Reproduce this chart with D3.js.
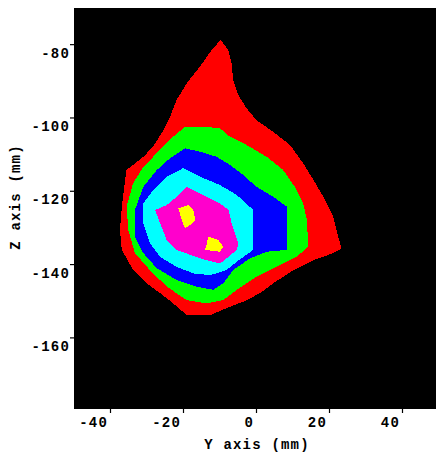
<!DOCTYPE html>
<html>
<head>
<meta charset="utf-8">
<script src="https://cdn.jsdelivr.net/npm/d3@7"></script>
<style>
  html, body { margin: 0; padding: 0; background: #ffffff; }
  svg { display: block; }
  text { font-family: "Liberation Mono", "DejaVu Sans Mono", monospace; font-weight: bold; fill: #000; }
</style>
</head>
<body>
<svg id="chart" width="436" height="456"></svg>
<script>
// ---- data (Y axis mm, Z axis mm) ----
const xTicks = [-40, -20, 0, 20, 40];
const yTicks = [-80, -100, -120, -140, -160];
const xTitle = "Y axis (mm)";
const yTitle = "Z axis (mm)";
const levelColors = ["#ff0000", "#00ff00", "#0000ff", "#00ffff", "#ff00cc", "#ffff00"];

const level1 = [[-9.8,-78.7],[-7.7,-81.5],[-6.8,-85.1],[-6.4,-89.6],[-5.0,-93.7],[-2.7,-97.4],[0.0,-100.6],[4.6,-103.8],[9.2,-107.4],[12.8,-112.4],[15.6,-116.9],[18.3,-121.5],[21.0,-126.9],[22.4,-132.4],[23.3,-135.6],[21.0,-136.9],[15.6,-138.8],[10.1,-141.5],[4.6,-145.1],[1.0,-147.8],[-3.6,-150.1],[-8.2,-151.9],[-12.7,-153.8],[-19.1,-153.8],[-22.8,-150.6],[-26.4,-147.8],[-30.1,-145.1],[-33.8,-141.5],[-36.9,-136.0],[-37.4,-130.6],[-36.9,-124.2],[-36.0,-116.9],[-35.6,-114.2],[-31.0,-110.6],[-28.3,-107.8],[-25.5,-103.3],[-23.7,-99.7],[-21.9,-95.1],[-19.1,-90.5],[-15.5,-86.0],[-12.3,-81.5]];
const level2 = [[-19.6,-102.4],[-14.6,-102.4],[-10.0,-102.8],[-7.3,-105.1],[-3.2,-107.1],[2.8,-110.6],[7.3,-114.2],[10.5,-118.8],[12.8,-123.3],[13.8,-127.8],[14.2,-135.1],[11.0,-137.9],[5.5,-140.6],[0.0,-143.3],[-5.4,-146.9],[-9.1,-149.7],[-13.6,-150.6],[-19.1,-149.7],[-24.6,-146.0],[-29.2,-141.5],[-33.3,-136.9],[-35.1,-130.6],[-35.6,-124.2],[-33.8,-117.8],[-31.0,-113.3],[-26.4,-108.7],[-22.8,-105.1]];
const level3 = [[-19.6,-108.3],[-15.5,-109.2],[-10.9,-110.6],[-7.3,-112.8],[-3.6,-115.6],[0.0,-118.8],[4.6,-121.5],[8.3,-124.2],[8.3,-136.0],[2.8,-136.5],[-1.8,-138.3],[-6.4,-141.5],[-9.1,-145.1],[-11.8,-146.9],[-16.4,-146.0],[-21.9,-144.2],[-27.3,-141.0],[-31.0,-136.9],[-33.3,-132.4],[-33.3,-125.1],[-31.0,-118.8],[-27.3,-114.2],[-23.7,-111.0]];
const level4 = [[-20.1,-113.7],[-15.5,-116.0],[-10.0,-118.3],[-5.4,-121.0],[-0.9,-125.1],[-0.9,-136.0],[-5.4,-139.2],[-8.2,-141.5],[-12.7,-142.9],[-17.3,-142.4],[-21.9,-140.6],[-26.4,-137.9],[-29.2,-134.2],[-31.0,-128.7],[-31.0,-123.3],[-28.3,-119.7],[-24.6,-116.0]];
const level5 = [[-19.1,-118.8],[-15.5,-120.6],[-10.0,-123.3],[-7.7,-125.1],[-6.8,-128.7],[-5.0,-134.2],[-5.4,-136.0],[-8.2,-138.3],[-10.0,-139.7],[-15.5,-138.3],[-21.9,-136.0],[-24.6,-133.3],[-26.4,-128.7],[-27.8,-125.1],[-24.6,-123.8],[-21.9,-121.5]];
const level6a = [[-21.4,-124.7],[-18.7,-123.8],[-17.3,-125.1],[-16.8,-127.8],[-18.2,-129.2],[-19.6,-130.1],[-20.5,-127.8]];
const level6b = [[-13.2,-132.4],[-10.5,-133.3],[-9.1,-135.1],[-10.0,-136.5],[-14.1,-136.0],[-13.6,-134.2]];

const regions = [
  {pts: level1, level: 0},
  {pts: level2, level: 1},
  {pts: level3, level: 2},
  {pts: level4, level: 3},
  {pts: level5, level: 4},
  {pts: level6a, level: 5},
  {pts: level6b, level: 5}
];

// ---- layout ----
const svg = d3.select("#chart");
const x = d3.scaleLinear().domain([-50, 50]).range([74, 439]);
const y = d3.scaleLinear().domain([-70, -179.4]).range([8, 409]);

svg.append("rect")
  .attr("x", x(-50)).attr("y", y(-70))
  .attr("width", x(50) - x(-50)).attr("height", y(-179.4) - y(-70))
  .attr("fill", "#000");

const line = d3.line().x(d => x(d[0])).y(d => y(d[1])).curve(d3.curveLinearClosed);

svg.append("g").selectAll("path")
  .data(regions)
  .join("path")
  .attr("d", d => line(d.pts))
  .attr("fill", d => levelColors[d.level])
  .attr("shape-rendering", "crispEdges");

// x axis
const gx = svg.append("g");
gx.selectAll("line").data(xTicks).join("line")
  .attr("x1", d => x(d)).attr("x2", d => x(d))
  .attr("y1", 409).attr("y2", 413)
  .attr("stroke", "#000").attr("stroke-width", 1.2);
gx.selectAll("text").data(xTicks).join("text")
  .attr("x", d => x(d) - 2.5).attr("y", 427)
  .attr("text-anchor", "end")
  .attr("font-size", 14).attr("letter-spacing", 1.2)
  .text(d => d);

// y axis
const gy = svg.append("g");
gy.selectAll("line").data(yTicks).join("line")
  .attr("x1", 70).attr("x2", 74)
  .attr("y1", d => y(d)).attr("y2", d => y(d))
  .attr("stroke", "#000").attr("stroke-width", 1.2);
gy.selectAll("text").data(yTicks).join("text")
  .attr("x", 70).attr("y", d => y(d) + 13)
  .attr("text-anchor", "end")
  .attr("font-size", 14).attr("letter-spacing", 1.2)
  .text(d => d);

// titles
svg.append("text")
  .attr("x", 257).attr("y", 449)
  .attr("text-anchor", "middle")
  .attr("font-size", 14).attr("letter-spacing", 1.2)
  .text(xTitle);
svg.append("text")
  .attr("transform", "translate(20,197) rotate(-90)")
  .attr("text-anchor", "middle")
  .attr("font-size", 14).attr("letter-spacing", 1.2)
  .text(yTitle);
</script>
</body>
</html>
